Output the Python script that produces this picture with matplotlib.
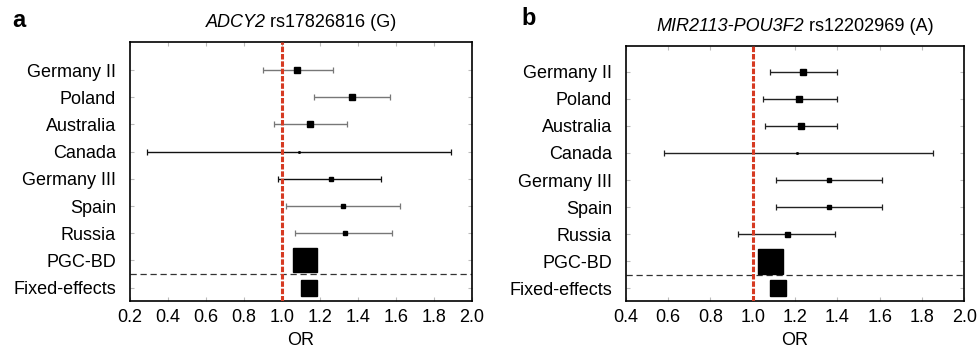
import matplotlib.pyplot as plt
import numpy as np

plt.rcParams['font.family'] = ['Liberation Sans', 'DejaVu Sans']

# study labels, top to bottom
studies = ['Germany II', 'Poland', 'Australia', 'Canada', 'Germany III',
           'Spain', 'Russia', 'PGC-BD', 'Fixed-effects']

# panel a: ADCY2 rs17826816 (G)
or_a = [1.08, 1.37, 1.15, 1.09, 1.26, 1.32, 1.33, 1.12, 1.14]
lo_a = [0.90, 1.17, 0.96, 0.29, 0.98, 1.02, 1.07, 1.08, 1.11]
hi_a = [1.27, 1.57, 1.34, 1.89, 1.52, 1.62, 1.58, 1.16, 1.17]

# panel b: MIR2113-POU3F2 rs12202969 (A)
or_b = [1.24, 1.22, 1.23, 1.21, 1.36, 1.36, 1.16, 1.08, 1.12]
lo_b = [1.08, 1.05, 1.06, 0.58, 1.11, 1.11, 0.93, 1.04, 1.09]
hi_b = [1.40, 1.40, 1.40, 1.85, 1.61, 1.61, 1.39, 1.12, 1.15]

xticks_a = [0.2, 0.4, 0.6, 0.8, 1.0, 1.2, 1.4, 1.6, 1.8, 2.0]
xticks_b = [0.4, 0.6, 0.8, 1.0, 1.2, 1.4, 1.6, 1.8, 2.0]

# marker sizes (study weight) and CI line colours
msize_a = [4.3, 5.0, 4.3, 1.0, 2.9, 2.9, 2.9, 16.6, 11.4]
msize_b = [5.0, 4.3, 5.0, 1.0, 3.2, 3.2, 3.6, 18.0, 11.0]
ci_col_a = ['#777777', '#777777', '#777777', '#111111', '#111111',
            '#777777', '#777777', '#111111', '#111111']
ci_col_b = ['#222222'] * 7 + ['#111111', '#111111']


def forest(ax, ors, lo, hi, msize, cols, xticks, title_gene, title_rest, ylim):
    y = np.arange(len(studies))
    for i in range(len(studies)):
        ax.errorbar(ors[i], y[i], xerr=[[ors[i] - lo[i]], [hi[i] - ors[i]]],
                    fmt='none', ecolor=cols[i], elinewidth=1.0, capsize=2.2,
                    capthick=0.9, zorder=2)
        ax.plot(ors[i], y[i], marker='s', color='black', markersize=msize[i],
                linestyle='none', zorder=4)
    ax.axvline(1.0, color='#d63a22', linewidth=2.2, dashes=(1.8, 0.6), zorder=3)
    ax.axhline(7.5, color='#333333', linewidth=0.9, dashes=(5, 3), zorder=1)

    ax.set_xlim(xticks[0], xticks[-1])
    ax.set_ylim(*ylim)
    ax.set_xticks(xticks)
    ax.set_xticklabels(['%.1f' % t for t in xticks])
    ax.set_yticks(y)
    ax.set_yticklabels(studies)
    ax.tick_params(axis='both', direction='in', length=3, color='#bbbbbb',
                   labelsize=13, top=True, right=True, pad=6)
    ax.tick_params(axis='y', pad=10)
    for s in ax.spines.values():
        s.set_linewidth(1.2)
    ax.set_xlabel('OR', fontsize=13, labelpad=4)

    # title: italic gene name followed by upright SNP id
    full = title_gene + title_rest
    t1 = ax.text(0.5, 1.0, full, transform=ax.transAxes, fontsize=13,
                 ha='center', va='bottom', alpha=0)
    t1.set_y(1.0)
    from matplotlib.transforms import offset_copy
    base = offset_copy(ax.transAxes, fig=ax.figure, x=0, y=8, units='points')
    t1.set_transform(base)
    g = ax.annotate(title_gene, xy=(0, 0), xycoords=t1, fontsize=13,
                    style='italic', ha='left', va='bottom')
    ax.annotate(title_rest, xy=(1, 0), xycoords=g, fontsize=13,
                ha='left', va='bottom')


fig = plt.figure(figsize=(9.78, 3.49), dpi=100)
ax_a = fig.add_axes([0.1329, 0.1384, 0.3497, 0.7413])
ax_b = fig.add_axes([0.6398, 0.1375, 0.3462, 0.7306])

forest(ax_a, or_a, lo_a, hi_a, msize_a, ci_col_a, xticks_a,
       'ADCY2', ' rs17826816 (G)', (8.48, -1.03))
forest(ax_b, or_b, lo_b, hi_b, msize_b, ci_col_b, xticks_b,
       'MIR2113-POU3F2', ' rs12202969 (A)', (8.47, -0.95))

fig.text(0.013, 0.922, 'a', fontsize=17, fontweight='bold')
fig.text(0.533, 0.928, 'b', fontsize=17, fontweight='bold')

fig.savefig('out.png', dpi=100)
